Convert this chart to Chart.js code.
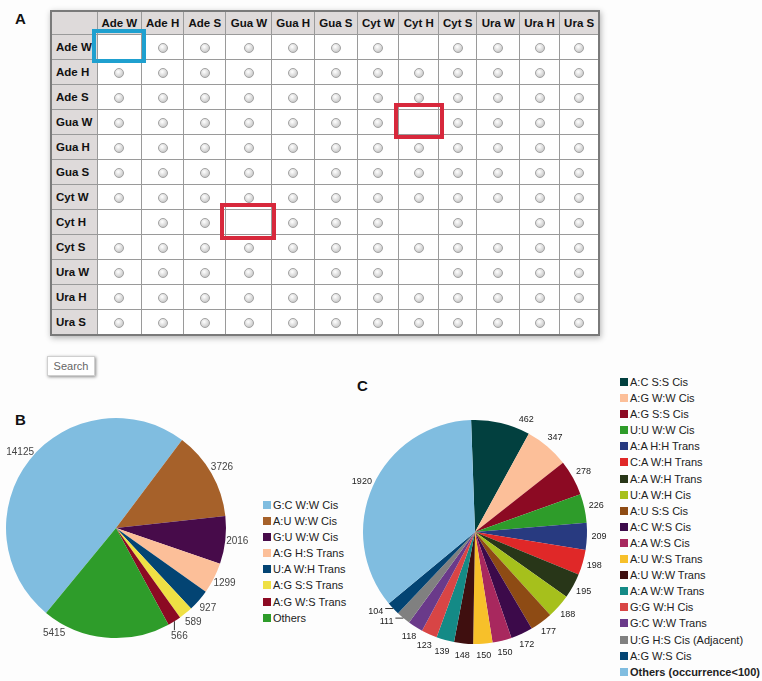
<!DOCTYPE html>
<html>
<head>
<meta charset="utf-8">
<script src="https://cdn.jsdelivr.net/npm/chart.js@4.4.1/dist/chart.umd.min.js"></script>
<style>
  body { margin: 0; background: #fdfdfd; font-family: Arial, "Liberation Sans", sans-serif; }
  #page { position: relative; width: 762px; height: 681px; overflow: hidden; }
  .panel { position: absolute; font-weight: bold; font-size: 15px; color: #111; }
  #grid { position: absolute; left: 50px; top: 10px; border-collapse: collapse; table-layout: fixed;
          border: 2px solid #7a7a7a; box-shadow: 1px 2px 6px rgba(0,0,0,0.3); background: #fff; }
  #grid th, #grid td { border: 1px solid #9a9a9a; padding: 0; font-size: 11.5px; text-align: center; }
  #grid thead th { height: 22px; }
  #grid tbody th, #grid tbody td { height: 24px; }
  #grid th { background: #dedada; font-weight: bold; color: #111; }
  #grid tbody th { text-align: left; padding-left: 4px; }
  .radio { display: inline-block; width: 8px; height: 8px; border-radius: 50%; border: 1px solid #a3a3a3;
           background: radial-gradient(circle at 40% 35%, #fff 0%, #dadada 55%, #b5b5b5 100%); vertical-align: middle; }
  .mark { position: absolute; border: 4px solid; box-sizing: border-box; }
  #search { position: absolute; left: 47px; top: 356px; width: 46px; height: 18px; border: 1px solid #cfcfcf;
            background: #fff; box-shadow: 1px 1px 3px rgba(0,0,0,0.45); font-size: 11px; color: #666;
            text-align: center; line-height: 18px; }
  .box { position: absolute; }
  .legend { position: absolute; font-size: 11px; color: #222; }
  .legend div { height: 16.1px; line-height: 16px; white-space: nowrap; }
  .legend span { display: inline-block; width: 8px; height: 8px; margin-right: 2px; }
</style>
</head>
<body>
<div id="page">
  <div class="panel" style="left:15px; top:10px;">A</div>
  <table id="grid"></table>
  <div class="mark" style="left:92px; top:29px; width:54px; height:34px; border-color:#1fa0cf;"></div>
  <div class="mark" style="left:394px; top:103px; width:50px; height:36px; border-color:#d7283c;"></div>
  <div class="mark" style="left:220px; top:203px; width:56px; height:37px; border-color:#d7283c;"></div>
  <div id="search">Search</div>

  <div class="panel" style="left:15px; top:411px;">B</div>
  <div class="box" style="left:0px; top:390px; width:262px; height:280px;"><canvas id="pieB"></canvas></div>
  <div class="legend" id="legB" style="left:263px; top:497px;"></div>

  <div class="panel" style="left:357px; top:377px;">C</div>
  <div class="box" style="left:340px; top:390px; width:280px; height:280px;"><canvas id="pieC"></canvas></div>
  <div class="legend" id="legC" style="left:620px; top:374px;"></div>
</div>
<script>
// 表格 A
var rowLabels = ["Ade W", "Ade H", "Ade S", "Gua W", "Gua H", "Gua S", "Cyt W", "Cyt H", "Cyt S", "Ura W", "Ura H", "Ura S"];
var colLabels = rowLabels;
var colWidths = [46, 44.6, 42, 42.4, 46, 42.3, 43.3, 41.4, 39.6, 38.4, 42.6, 40, 39.7];
// cells without a radio button: [row, col]
var blankCells = [[0, 0], [0, 7], [3, 7], [7, 0], [7, 3], [7, 7], [7, 9], [9, 7]];

// 圖 B
var bLabels = ["G:C W:W Cis", "A:U W:W Cis", "G:U W:W Cis", "A:G H:S Trans", "U:A W:H Trans", "A:G S:S Trans", "A:G W:S Trans", "Others"];
var bValues = [14125, 3726, 2016, 1299, 927, 589, 566, 5415];
var bColors = ["#80bde0", "#a6612a", "#470b4a", "#fcbf99", "#034473", "#efe044", "#8c0a23", "#2e9c2a"];

// 圖 C
var cLabels = ["A:C S:S Cis", "A:G W:W Cis", "A:G S:S Cis", "U:U W:W Cis", "A:A H:H Trans", "C:A W:H Trans",
  "A:A W:H Trans", "U:A W:H Cis", "A:U S:S Cis", "A:C W:S Cis", "A:A W:S Cis", "A:U W:S Trans",
  "A:U W:W Trans", "A:A W:W Trans", "G:G W:H Cis", "G:C W:W Trans", "U:G H:S Cis (Adjacent)", "A:G W:S Cis",
  "Others (occurrence<100)"];
var cValues = [462, 347, 278, 226, 209, 198, 195, 188, 177, 172, 150, 150, 148, 139, 123, 118, 111, 104, 1920];
var cColors = ["#02403f", "#fcbf99", "#8c0a23", "#2e9c2a", "#283a80", "#e02828", "#283618", "#a6c01c",
  "#8e4b14", "#3c0a4a", "#a8285e", "#f7c02a", "#3f0f0f", "#148a86", "#d84545", "#6a3a8a", "#808080",
  "#034473", "#80bde0"];

// build table
var grid = document.getElementById("grid");
var html = "<colgroup>" + colWidths.map(function (w) { return '<col style="width:' + w + 'px">'; }).join("") + "</colgroup>";
html += "<thead><tr><th></th>" + colLabels.map(function (c) { return "<th>" + c + "</th>"; }).join("") + "</tr></thead><tbody>";
rowLabels.forEach(function (r, ri) {
  html += "<tr><th>" + r + "</th>";
  colLabels.forEach(function (c, ci) {
    var blank = blankCells.some(function (b) { return b[0] === ri && b[1] === ci; });
    html += "<td>" + (blank ? "" : '<span class="radio"></span>') + "</td>";
  });
  html += "</tr>";
});
grid.innerHTML = html + "</tbody>";

// 外部數值標籤
var outLabels = {
  id: "outLabels",
  afterDatasetsDraw: function (chart, args, opts) {
    var ctx = chart.ctx;
    var meta = chart.getDatasetMeta(0);
    var values = chart.data.datasets[0].data;
    ctx.save();
    ctx.font = opts.font;
    ctx.fillStyle = opts.color;
    ctx.strokeStyle = "#333";
    ctx.lineWidth = 1;
    ctx.textAlign = "center";
    ctx.textBaseline = "middle";
    meta.data.forEach(function (arc, i) {
      var p = arc.getProps(["x", "y", "startAngle", "endAngle", "outerRadius"], true);
      var shift = ((opts.shift || {})[i] || 0) * Math.PI / 180;
      var mid = (p.startAngle + p.endAngle) / 2 + shift;
      var text = String(values[i]);
      var w = ctx.measureText(text).width;
      var cos = Math.cos(mid), sin = Math.sin(mid);
      var lead = (opts.leaders || {})[i];
      var tx, ty;
      if (lead) {
        var ex = p.x + cos * p.outerRadius, ey = p.y + sin * p.outerRadius;
        ctx.beginPath();
        ctx.moveTo(ex, ey);
        if (lead === "v") {
          ctx.lineTo(ex, ey + 9);
          tx = ex + 5; ty = ey + 15;
        } else {
          var sx = cos < 0 ? -1 : 1;
          ctx.lineTo(ex + sx * 8, ey);
          tx = ex + sx * (8 + w / 2 + 2); ty = ey + 3;
        }
        ctx.stroke();
      } else {
        tx = p.x + cos * (p.outerRadius + opts.gap);
        ty = p.y + sin * (p.outerRadius + opts.gap);
      }
      ctx.fillText(text, tx, ty);
    });
    ctx.restore();
  }
};

function makePie(id, labels, values, colors, rotation, padding, labelOpts) {
  return new Chart(document.getElementById(id).getContext("2d"), {
    type: "pie",
    data: {
      labels: labels,
      datasets: [{ data: values, backgroundColor: colors, borderWidth: 0 }]
    },
    options: {
      responsive: true,
      maintainAspectRatio: false,
      animation: false,
      rotation: rotation,
      layout: { padding: padding },
      plugins: {
        legend: { display: false },
        tooltip: { enabled: false },
        outLabels: labelOpts
      }
    },
    plugins: [outLabels]
  });
}

function makeLegend(id, labels, colors, boldLast) {
  var el = document.getElementById(id);
  el.innerHTML = labels.map(function (l, i) {
    var b = boldLast && i === labels.length - 1 ? ' style="font-weight:bold"' : "";
    return '<div' + b + '><span style="background:' + colors[i] + '"></span>' + l.replace("<", "&lt;") + "</div>";
  }).join("");
}

makePie("pieB", bLabels, bValues, bColors, 219.5, { left: 6, right: 36, top: 28, bottom: 32 },
  { font: "10px Arial, 'Liberation Sans'", color: "#444", gap: 12, shift: { 7: 25 }, leaders: { 6: "v" } });
makePie("pieC", cLabels, cValues, cColors, -2, { left: 23, right: 33, top: 30, bottom: 26 },
  { font: "9px Arial, 'Liberation Sans'", color: "#222", gap: 12, shift: { 0: 11 }, leaders: { 16: "h", 17: "h" } });

makeLegend("legB", bLabels, bColors, false);
makeLegend("legC", cLabels, cColors, true);
</script>
</body>
</html>
